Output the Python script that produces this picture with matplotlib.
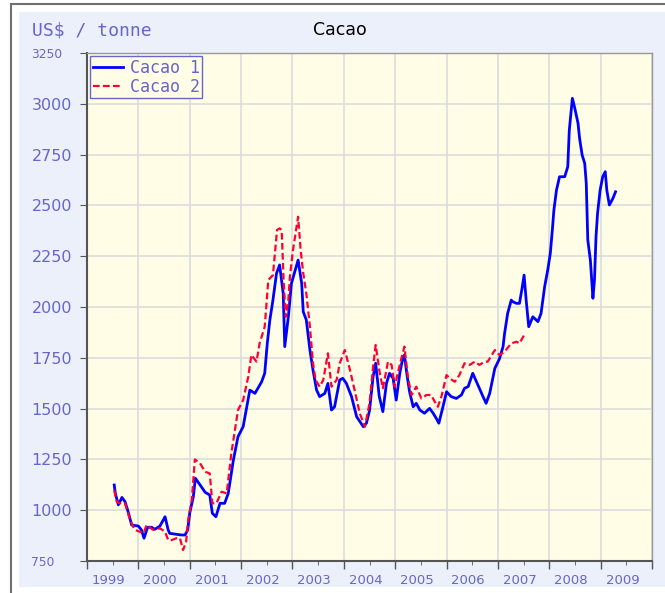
import matplotlib
matplotlib.use('Agg')
import matplotlib.pyplot as plt
import matplotlib.patches as mpatches
import matplotlib.transforms as mtransforms
import numpy as np

# Cacao 1 (blue, solid)
years1 = [1999.53, 1999.55, 1999.61, 1999.68, 1999.74, 1999.80, 1999.87, 2000.00, 2000.06, 2000.11,
          2000.18, 2000.26, 2000.32, 2000.42, 2000.52, 2000.58, 2000.61, 2000.84, 2000.91, 2000.96,
          2001.00, 2001.07, 2001.11, 2001.20, 2001.30, 2001.39, 2001.44, 2001.51, 2001.59, 2001.68,
          2001.75, 2001.85, 2001.94, 2002.04, 2002.11, 2002.17, 2002.27, 2002.40, 2002.46, 2002.51,
          2002.56, 2002.62, 2002.69, 2002.75, 2002.82, 2002.85, 2002.92, 2002.98, 2003.11, 2003.18,
          2003.21, 2003.27, 2003.34, 2003.40, 2003.47, 2003.53, 2003.63, 2003.69, 2003.76, 2003.82,
          2003.92, 2003.98, 2004.05, 2004.15, 2004.25, 2004.38, 2004.44, 2004.50, 2004.57, 2004.62,
          2004.69, 2004.76, 2004.83, 2004.89, 2004.96, 2005.02, 2005.09, 2005.14, 2005.18, 2005.23,
          2005.28, 2005.35, 2005.41, 2005.48, 2005.57, 2005.67, 2005.74, 2005.80, 2005.85, 2005.93,
          2006.00, 2006.09, 2006.19, 2006.29, 2006.35, 2006.42, 2006.51, 2006.61, 2006.71, 2006.77,
          2006.84, 2006.94, 2007.03, 2007.10, 2007.13, 2007.19, 2007.26, 2007.29, 2007.36, 2007.42,
          2007.47, 2007.51, 2007.55, 2007.60, 2007.68, 2007.78, 2007.84, 2007.91, 2007.97, 2008.02,
          2008.06, 2008.09, 2008.14, 2008.20, 2008.30, 2008.36, 2008.39, 2008.45, 2008.49, 2008.56,
          2008.59, 2008.64, 2008.69, 2008.72, 2008.75, 2008.80, 2008.84, 2008.85, 2008.88, 2008.91,
          2008.94, 2008.99, 2009.04, 2009.09, 2009.12, 2009.17, 2009.24, 2009.29]
cacao1 = [1124, 1085, 1026, 1063, 1042, 993, 927, 922, 903, 862,
          916, 916, 906, 922, 968, 903, 886, 878, 878, 903,
          986, 1066, 1157, 1125, 1088, 1075, 985, 968, 1034, 1034,
          1083, 1247, 1362, 1411, 1509, 1591, 1575, 1632, 1674, 1821,
          1936, 2034, 2166, 2207, 2067, 1805, 1952, 2116, 2231, 2116,
          1977, 1936, 1788, 1690, 1591, 1559, 1575, 1624, 1493, 1509,
          1641, 1649, 1624, 1559, 1460, 1411, 1428, 1490, 1657, 1723,
          1560, 1485, 1624, 1674, 1649, 1542, 1674, 1739, 1764, 1665,
          1583, 1509, 1526, 1493, 1477, 1501, 1477, 1452, 1428, 1509,
          1583, 1559, 1550, 1567, 1600, 1608, 1674, 1616, 1559, 1526,
          1575, 1698, 1745, 1805, 1870, 1969, 2034, 2026, 2018, 2018,
          2092, 2157, 2034, 1903, 1952, 1928, 1969, 2100, 2182, 2264,
          2379, 2477, 2575, 2641, 2641, 2690, 2871, 3027, 2986, 2904,
          2830, 2748, 2707, 2609, 2330, 2231, 2084, 2043, 2133, 2346,
          2461, 2575, 2641, 2666, 2575, 2502, 2535, 2567]

# Cacao 2 (red, dashed)
years2 = [1999.53, 1999.58, 1999.64, 1999.74, 1999.84, 1999.93, 2000.03, 2000.10, 2000.16, 2000.29,
          2000.42, 2000.52, 2000.58, 2000.65, 2000.74, 2000.81, 2000.87, 2000.93, 2000.97, 2001.04,
          2001.10, 2001.20, 2001.30, 2001.39, 2001.44, 2001.52, 2001.62, 2001.72, 2001.81, 2001.94,
          2002.04, 2002.14, 2002.20, 2002.30, 2002.36, 2002.46, 2002.53, 2002.62, 2002.70, 2002.75,
          2002.79, 2002.83, 2002.87, 2002.92, 2002.95, 2003.01, 2003.11, 2003.16, 2003.21, 2003.27,
          2003.34, 2003.40, 2003.45, 2003.53, 2003.60, 2003.69, 2003.76, 2003.86, 2003.92, 2004.02,
          2004.12, 2004.21, 2004.31, 2004.41, 2004.50, 2004.57, 2004.62, 2004.70, 2004.76, 2004.86,
          2004.93, 2004.99, 2005.05, 2005.12, 2005.18, 2005.25, 2005.32, 2005.41, 2005.51, 2005.61,
          2005.70, 2005.77, 2005.83, 2005.90, 2006.00, 2006.06, 2006.16, 2006.25, 2006.35, 2006.45,
          2006.55, 2006.64, 2006.74, 2006.80, 2006.84, 2006.94, 2007.03, 2007.13, 2007.26, 2007.36,
          2007.42, 2007.51]
cacao2 = [1099, 1042, 1034, 1034, 952, 903, 894, 886, 927, 903,
          911, 894, 853, 853, 862, 862, 804, 845, 952, 1050,
          1250, 1231, 1189, 1181, 1034, 1034, 1091, 1083, 1280, 1493,
          1542, 1657, 1764, 1731, 1821, 1903, 2133, 2157, 2379, 2387,
          2379, 2116, 1952, 2034, 2149, 2280, 2444, 2280, 2166, 2067,
          1903, 1723, 1641, 1608, 1641, 1772, 1608, 1641, 1723, 1788,
          1690, 1591, 1477, 1411, 1526, 1706, 1813, 1674, 1600, 1731,
          1715, 1608, 1674, 1747, 1805, 1649, 1567, 1608, 1550, 1567,
          1567, 1534, 1509, 1559, 1665, 1649, 1632, 1665, 1723, 1715,
          1731, 1715, 1731, 1731, 1747, 1788, 1764, 1780, 1821, 1829,
          1821, 1862]

year_labels = [str(y) for y in range(1999, 2010)]
y_ticks = list(range(750, 3251, 250))

W, H = 665, 593
txt = '#6666cc'

fig = plt.figure(figsize=(W / 100, H / 100), dpi=100)
fig.patch.set_facecolor('white')

# outer frame and light blue panel, behind the axes
fig.add_artist(mpatches.Rectangle((11 / W, -0.1), 1.2, 1.1 - 4 / H, transform=fig.transFigure,
                                  fill=False, edgecolor='#707070', lw=1.5, zorder=-10))
fig.add_artist(mpatches.Rectangle((19 / W, 1 - 587 / H), 1.0, (587 - 12) / H, transform=fig.transFigure,
                                  facecolor='#ECF0FA', edgecolor='none', zorder=-9))

ax = fig.add_axes([87 / W, 1 - 561 / H, (652 - 87) / W, (561 - 53) / H])
ax.set_facecolor('#FFFDE6')

ax.plot(years1, cacao1, color='#0000FF', lw=2, label='Cacao 1')
ax.plot(years2, cacao2, color='#FF0033', lw=1.6, ls=(0, (3, 1.5)), label='Cacao 2')

ax.set_xlim(1999, 2010)
ax.set_ylim(750, 3250)

ax.set_xticks(np.arange(1999, 2011))
ax.set_xticklabels([])
ax.set_xticks(np.arange(1999.5, 2010, 1), minor=True)
ax.set_xticklabels(year_labels, minor=True)
ax.tick_params(axis='x', which='major', length=6, color='#555555', width=1)
ax.tick_params(axis='x', which='minor', length=3, color='#555555', labelsize=9.5,
               labelcolor=txt, pad=6)
shift = mtransforms.ScaledTranslation(-4 / 100, 0, fig.dpi_scale_trans)
for lab in ax.get_xticklabels(minor=True):
    lab.set_transform(lab.get_transform() + shift)

ax.set_yticks(y_ticks)
ax.set_yticklabels([str(v) for v in y_ticks])
ax.tick_params(axis='y', length=5, color='#555555', labelcolor=txt, labelsize=11.5, pad=35)
for i, lab in enumerate(ax.get_yticklabels()):
    lab.set_ha('left')
    if i == 0 or i == len(y_ticks) - 1:
        lab.set_fontsize(8.8)

ax.grid(True, which='major', color='#DCDCDC', lw=1.2)
ax.set_axisbelow(True)

for s in ['left', 'bottom']:
    ax.spines[s].set_color('#555555')
    ax.spines[s].set_linewidth(1.5)
for s in ['top', 'right']:
    ax.spines[s].set_color('#999999')
    ax.spines[s].set_linewidth(1)

leg = ax.legend(loc='upper left', prop={'family': 'DejaVu Sans Mono', 'size': 12},
                labelcolor=txt, fancybox=False, framealpha=1, facecolor='#FFFDE6',
                edgecolor=txt, borderpad=0.15, labelspacing=0.05, handlelength=1.8,
                handletextpad=0.4, borderaxespad=0.2)
leg.get_frame().set_linewidth(1)

fig.text(32 / W, 1 - 30 / H, 'US$ / tonne', family='DejaVu Sans Mono', size=13, color=txt, va='center')
fig.text(340 / W, 1 - 30 / H, 'Cacao', size=12.5, color='black', ha='center', va='center')

fig.savefig('out.png', dpi=100)
